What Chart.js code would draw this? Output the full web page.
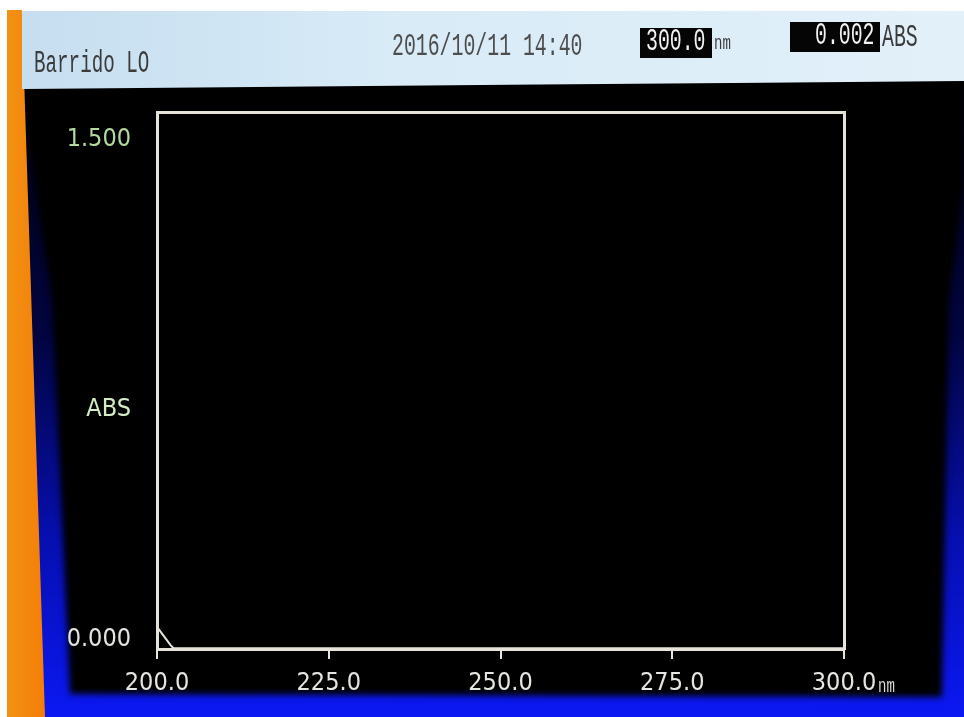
<!DOCTYPE html>
<html>
<head>
<meta charset="utf-8">
<script src="https://cdn.jsdelivr.net/npm/chart.js@4.4.0/dist/chart.umd.min.js"></script>
<style>
html,body{margin:0;padding:0;width:964px;height:717px;overflow:hidden;background:#ffffff;position:relative;}
#orange{position:absolute;left:7px;top:10px;width:38px;height:707px;
  background:linear-gradient(90deg,#f39214,#f47d08);
  clip-path:polygon(0 0,39% 0,100% 100%,0 100%);}
#bezel{position:absolute;left:21px;top:80px;width:943px;height:637px;
  background:linear-gradient(180deg,#01020a 0%,#020440 40%,#060fb0 72%,#0b18f2 100%);}
#screenwrap{position:absolute;left:0;top:0;width:964px;height:717px;filter:blur(3px);}
#screen{position:absolute;left:0;top:0;width:964px;height:717px;background:#000;
  clip-path:polygon(24px 78px,964px 78px,964px 180px,949px 300px,942px 697px,70px 694px,52px 300px,30px 150px);}
#header{position:absolute;left:22px;top:11px;width:942px;height:78px;
  background:linear-gradient(90deg,#c6def0 0%,#d8ebf7 40%,#e2f0f9 100%);
  clip-path:polygon(0 0,100% 0,100% 70px,0 78px);}
.ht{position:absolute;font-family:"Liberation Mono","DejaVu Sans Mono",monospace;white-space:nowrap;transform-origin:0 50%;}
.box{position:absolute;background:#050505;}
#chartwrap{position:absolute;left:0;top:0;width:964px;height:717px;}
</style>
</head>
<body>
<div id="bezel"></div>
<div id="screenwrap"><div id="screen"></div></div>
<div id="orange"></div>
<div id="header"></div>

<div class="ht" style="left:34px;top:47px;font-size:31px;line-height:34px;color:#3b3b3b;transform:scaleX(0.62);">Barrido LO</div>
<div class="ht" style="left:392px;top:30px;font-size:31px;line-height:34px;color:#4d4d4d;transform:scaleX(0.64);">2016/10/11 14:40</div>
<div class="box" style="left:640px;top:28px;width:72px;height:30px;"></div>
<div class="ht" style="left:646px;top:25px;font-size:31px;line-height:34px;color:#f2f2f2;transform:scaleX(0.64);">300.0</div>
<div class="ht" style="left:714px;top:33px;font-size:20px;line-height:22px;color:#3b3b3b;transform:scaleX(0.7);">nm</div>
<div class="box" style="left:790px;top:22px;width:90px;height:30px;"></div>
<div class="ht" style="left:815px;top:19px;font-size:31px;line-height:34px;color:#f2f2f2;transform:scaleX(0.64);">0.002</div>
<div class="ht" style="left:882px;top:21px;font-size:31px;line-height:34px;color:#3b3b3b;transform:scaleX(0.64);">ABS</div>

<div id="chartwrap"><canvas id="c" width="964" height="717"></canvas></div>
<div class="ht" style="left:878px;top:676px;font-size:20px;line-height:22px;color:#dcdcd4;transform:scaleX(0.7);">nm</div>

<script>
// ---- data ----
const wavelengths = [200.0, 201.0, 202.0, 202.4, 225.0, 250.0, 275.0, 300.0];
const absorbance  = [0.062, 0.036, 0.010, 0.002, 0.002, 0.002, 0.002, 0.002];

const xTickValues = [200, 225, 250, 275, 300];
const xTickLabels = ['200.0', '225.0', '250.0', '275.0', '300.0'];
const yTickValues = [0, 0.75, 1.5];
const yTickLabels = ['0.000', 'ABS', '1.500'];

const FONT = '"Liberation Sans Narrow","DejaVu Sans Condensed","Liberation Sans",sans-serif';
const lineColor = '#e6e4da';

// vertical shift of each y label (instrument draws them inside the range)
const yLabelShift = [-10, 29, 27];
const yLabelColors = ['#e4e4e0', '#d4ecc4', '#b4d89e'];

const points = wavelengths.map((w, i) => ({x: w, y: absorbance[i]}));

new Chart(document.getElementById('c'), {
  type: 'line',
  data: {
    datasets: [{
      data: points,
      borderColor: lineColor,
      borderWidth: 2,
      pointRadius: 0,
      tension: 0,
      fill: false
    }]
  },
  options: {
    responsive: false,
    animation: false,
    devicePixelRatio: 1,
    layout: {padding: 0},
    plugins: {legend: {display: false}, tooltip: {enabled: false}},
    scales: {
      x: {
        type: 'linear', position: 'bottom', min: 200, max: 300,
        afterBuildTicks: s => { s.ticks = xTickValues.map(v => ({value: v})); },
        afterFit: s => { s.height = 68; },
        ticks: {
          callback: (v, i) => xTickLabels[i],
          color: '#e6e6e0',
          font: {family: FONT, size: 25},
          padding: 9,
          maxRotation: 0, autoSkip: false
        },
        grid: {drawOnChartArea: false, tickLength: 10, color: lineColor, lineWidth: 2},
        border: {color: lineColor, width: 3}
      },
      y: {
        type: 'linear', position: 'left', min: 0, max: 1.5,
        afterBuildTicks: s => { s.ticks = yTickValues.map(v => ({value: v})); },
        afterFit: s => { s.width = 157; },
        ticks: {
          callback: (v, i) => {
            const sh = yLabelShift[i];
            return sh >= 0 ? ['', yTickLabels[i]] : [yTickLabels[i], ''];
          },
          color: ctx => yLabelColors[ctx.index],
          font: ctx => ({family: FONT, size: 25, lineHeight: Math.abs(yLabelShift[ctx.index]) * 2 + 'px'}),
          padding: 26,
          autoSkip: false
        },
        grid: {display: false, tickLength: 0},
        border: {color: lineColor, width: 3}
      },
      xTop: {
        type: 'linear', position: 'top', min: 200, max: 300,
        afterFit: s => { s.height = 112; },
        ticks: {display: false},
        grid: {display: false},
        border: {color: lineColor, width: 3}
      },
      yRight: {
        type: 'linear', position: 'right', min: 0, max: 1.5,
        afterFit: s => { s.width = 120; },
        ticks: {display: false},
        grid: {display: false},
        border: {color: lineColor, width: 3}
      }
    }
  }
});
</script>
</body>
</html>
